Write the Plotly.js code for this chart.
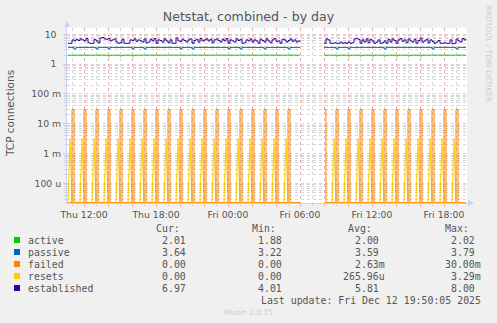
<!DOCTYPE html>
<html>
<head>
<meta charset="utf-8">
<script src="https://cdn.plot.ly/plotly-3.0.1.min.js"></script>
<style>html,body{margin:0;padding:0;background:#f0f0f0;}#chart{width:497px;height:323px;}</style>
</head>
<body>
<div id="chart"></div>
<script>
// ---- DATA (10-minute samples from Thu 2025-12-11 10:40 to Fri 2025-12-12 19:50) ----
var startTime = '2025-12-11 10:40';
var stepMinutes = 10;
var seriesNames = ['active', 'passive', 'failed', 'resets', 'established'];
var seriesColors = ['#00cc00', '#0066b3', '#ff8000', '#ffcc00', '#330099'];

var active = [
2.00,2.00,2.00,2.00,2.00,2.00,2.00,2.00,2.00,2.00,
2.00,2.00,2.00,2.00,2.00,2.00,2.00,2.00,2.00,2.00,
1.88,2.00,2.00,2.00,2.00,2.00,1.88,2.00,2.00,2.00,
2.00,2.00,1.88,2.00,2.00,2.00,2.00,2.00,2.00,2.00,
2.00,2.00,2.00,2.00,2.00,2.00,2.00,2.00,2.00,2.00,
2.00,2.00,2.00,2.00,2.00,2.00,2.00,2.00,2.00,2.00,
2.00,2.00,2.00,2.00,2.00,2.00,2.00,2.00,2.00,2.00,
2.00,2.00,2.00,2.00,2.00,2.00,2.00,2.00,2.00,2.00,
2.00,2.00,2.00,2.00,2.00,2.00,2.00,2.00,2.00,2.00,
2.00,2.00,2.00,2.00,2.00,2.00,2.00,2.00,2.00,2.00,
2.00,2.00,2.00,2.00,2.00,2.00,2.00,2.00,2.00,2.00,
2.00,2.00,2.00,2.00,2.00,2.00,2.00,null,null,null,
null,null,null,null,null,null,null,null,2.00,2.00,
2.00,2.00,2.00,2.00,1.88,2.00,2.00,2.00,2.00,2.00,
1.88,2.00,2.00,2.00,2.00,2.00,1.88,2.00,2.00,2.00,
2.00,2.00,1.88,2.00,2.00,2.00,2.00,2.00,1.88,2.00,
2.00,2.00,2.00,2.00,1.88,2.00,2.00,2.00,2.00,2.00,
1.88,2.00,2.00,2.00,2.00,2.00,1.88,2.00,2.00,2.00,
2.00,2.00,2.00,2.00,2.00,2.00,2.00,2.00,2.00,2.00,
2.00,2.00,2.00,2.00,2.00,2.00,2.00,2.00,2.00,2.01
];

var passive = [
3.64,3.64,3.64,3.22,3.64,3.64,3.64,3.64,3.64,3.64,
3.64,3.64,3.64,3.64,3.22,3.64,3.64,3.64,3.64,3.64,
3.22,3.64,3.64,3.64,3.64,3.64,3.64,3.64,3.64,3.64,
3.64,3.64,3.22,3.64,3.64,3.64,3.64,3.64,3.22,3.64,
3.64,3.64,3.64,3.64,3.64,3.64,3.64,3.64,3.64,3.64,
3.64,3.64,3.64,3.64,3.64,3.64,3.22,3.64,3.64,3.64,
3.64,3.64,3.22,3.64,3.64,3.64,3.64,3.64,3.64,3.64,
3.64,3.64,3.64,3.64,3.64,3.64,3.64,3.64,3.64,3.64,
3.22,3.64,3.64,3.64,3.64,3.64,3.22,3.64,3.64,3.64,
3.64,3.64,3.64,3.64,3.64,3.64,3.64,3.64,3.22,3.64,
3.64,3.64,3.64,3.64,3.64,3.64,3.64,3.64,3.64,3.64,
3.22,3.64,3.64,3.64,3.64,3.64,3.64,null,null,null,
null,null,null,null,null,null,null,null,3.64,3.64,
3.64,3.64,3.64,3.64,3.22,3.64,3.64,3.64,3.64,3.64,
3.22,3.64,3.64,3.64,3.64,3.64,3.64,3.64,3.64,3.64,
3.64,3.64,3.64,3.64,3.64,3.64,3.64,3.64,3.22,3.64,
3.64,3.64,3.64,3.64,3.64,3.64,3.64,3.64,3.64,3.64,
3.64,3.64,3.64,3.64,3.64,3.64,3.64,3.64,3.64,3.64,
3.64,3.64,3.22,3.64,3.64,3.64,3.64,3.64,3.64,3.64,
3.64,3.64,3.64,3.64,3.22,3.64,3.64,3.64,3.64,3.64
];

var failed = [
0,0,0.03,0,0,0,0,0,0.03,0,
0,0,0,0,0.03,0,0,0,0,0,
0.03,0,0,0,0,0,0.03,0,0,0,
0,0,0.03,0,0,0,0,0,0.03,0,
0,0,0,0,0.03,0,0,0,0,0,
0.03,0,0,0,0,0,0.03,0,0,0,
0,0,0.03,0,0,0,0,0,0.03,0,
0,0,0,0,0.03,0,0,0,0,0,
0.03,0,0,0,0,0,0.03,0,0,0,
0,0,0.03,0,0,0,0,0,0.03,0,
0,0,0,0,0.03,0,0,0,0,0,
0.03,0,0,0,0,0,0,null,null,null,
null,null,null,null,null,null,null,null,0.03,0,
0,0,0,0,0.03,0,0,0,0,0,
0.03,0,0,0,0,0,0.03,0,0,0,
0,0,0.03,0,0,0,0,0,0.03,0,
0,0,0,0,0.03,0,0,0,0,0,
0.03,0,0,0,0,0,0.03,0,0,0,
0,0,0.03,0,0,0,0,0,0.03,0,
0,0,0,0,0.03,0,0,0,0,0
];

var resets = [
0,0.0032,0,0,0,0,0,0.0032,0,0,
0,0,0,0.0032,0,0,0,0,0,0.0032,
0,0,0,0,0,0.0032,0,0,0,0,
0,0.0032,0,0,0,0,0,0.0032,0,0,
0,0,0,0.0032,0,0,0,0,0,0.0032,
0,0,0,0,0,0.0032,0,0,0,0,
0,0.0032,0,0,0,0,0,0.0032,0,0,
0,0,0,0.0032,0,0,0,0,0,0.0032,
0,0,0,0,0,0.0032,0,0,0,0,
0,0.0032,0,0,0,0,0,0.0032,0,0,
0,0,0,0.0032,0,0,0,0,0,0.0032,
0,0,0,0,0,0,0,null,null,null,
null,null,null,null,null,null,null,null,0,0,
0,0,0,0.0032,0,0,0,0,0,0.0032,
0,0,0,0,0,0.0032,0,0,0,0,
0,0.0032,0,0,0,0,0,0.0032,0,0,
0,0,0,0.0032,0,0,0,0,0,0.0032,
0,0,0,0,0,0.0032,0,0,0,0,
0,0.0032,0,0,0,0,0,0.0032,0,0,
0,0,0,0.0032,0,0,0,0,0,0
];

var established = [
5.0,5.0,6.5,6.0,6.8,6.2,7.0,6.5,6.0,7.2,
5.2,5.0,5.0,6.8,6.0,5.2,7.5,7.8,7.0,6.8,
7.2,6.0,6.5,7.0,5.5,5.0,5.2,6.8,5.0,5.0,
5.0,6.5,6.2,7.0,5.8,6.5,6.0,5.5,7.0,5.2,
5.5,6.8,6.0,7.2,5.0,6.5,6.2,5.5,7.0,6.0,
5.2,6.5,5.0,5.0,7.5,6.0,5.8,6.8,6.2,5.5,
6.5,7.0,5.0,6.2,6.8,5.5,7.2,6.0,6.5,7.0,
6.0,6.8,5.2,6.5,7.0,6.2,5.5,6.8,6.0,7.2,
5.0,6.5,6.0,5.5,7.0,6.2,6.8,5.0,5.2,6.5,
6.0,7.0,5.5,6.5,6.0,5.0,6.8,6.2,5.5,7.0,
6.0,5.2,6.5,7.2,5.8,6.0,5.0,6.8,6.5,5.5,
6.2,7.0,5.8,6.5,5.5,6.0,5.8,null,null,null,
null,null,null,null,null,null,null,null,5.0,7.0,
6.5,5.0,5.0,5.2,5.0,5.0,5.5,5.0,5.2,5.0,
5.5,5.0,5.2,7.0,7.2,6.8,5.0,6.5,5.5,7.0,
5.2,6.8,6.0,5.0,5.5,6.5,5.0,5.2,6.0,5.0,
6.8,5.5,7.0,6.2,5.0,6.5,7.2,5.8,6.5,5.2,
7.0,6.0,5.5,6.8,5.0,6.2,7.5,5.5,6.0,6.8,
5.2,6.5,5.8,5.0,5.5,6.2,5.0,5.0,5.2,5.0,
5.0,6.5,4.8,5.0,7.0,6.0,5.5,7.2,6.5,6.97
];

// legend statistics as printed by munin
var curVals = ['2.01 ', '3.64 ', '0.00 ', '0.00 ', '6.97 '];
var minVals = ['1.88 ', '3.22 ', '0.00 ', '0.00 ', '4.01 '];
var avgVals = ['2.00 ', '3.59 ', '2.63m', '265.96u', '5.81 '];
var maxVals = ['2.02 ', '3.79 ', '30.00m', '3.29m', '8.00 '];
var lastUpdate = 'Last update: Fri Dec 12 19:50:05 2025';

var yTickVals = [10, 1, 0.1, 0.01, 0.001, 0.0001];
var yTickText = ['10\u2002', '1\u2002', '100 m', '10 m', '1 m', '100 u'];

// ---- build time axis ----
function pad(n){return (n<10?'0':'')+n;}
function fmt(d){return d.getUTCFullYear()+'-'+pad(d.getUTCMonth()+1)+'-'+pad(d.getUTCDate())+' '+pad(d.getUTCHours())+':'+pad(d.getUTCMinutes());}
var t0 = Date.UTC(2025, 11, 11, 10, 40);
var times = [];
for (var i = 0; i < established.length; i++) times.push(fmt(new Date(t0 + i*stepMinutes*60000)));

var days = ['Sun','Mon','Tue','Wed','Thu','Fri','Sat'];
var xTickVals = [], xTickText = [];
for (var h = 12; h <= 12+30; h += 2) {
  var d = new Date(Date.UTC(2025, 11, 11, h, 0));
  xTickVals.push(fmt(d));
  xTickText.push(d.getUTCHours() % 6 === 0 ? days[d.getUTCDay()] + ' ' + pad(d.getUTCHours()) + ':00' : '');
}

var yMin = -4.653, yMax = 1.211;
var floorVal = Math.pow(10, yMin + 0.01);
function toLog(arr){return arr.map(function(v){return v === null ? null : (v === 0 ? floorVal : v);});}

// drawing order: active, passive, resets (under), failed, established
var order = [0, 1, 3, 2, 4];
var seriesData = [active, passive, failed, resets, established];
var lineShapes = ['hv', 'hv', 'hv', 'linear', 'hv'];
var traces = order.map(function(k){
  return {x: times, y: toLog(seriesData[k]), type: 'scatter', mode: 'lines', name: seriesNames[k],
    line: {color: seriesColors[k], width: 1, shape: lineShapes[k]}, connectgaps: false, hoverinfo: 'skip'};
});

var yMinor = [];
for (var e = -5; e <= 1; e++) for (var m = 2; m <= 9; m++) yMinor.push(m*Math.pow(10, e));

function px(x){return (x-67)/400;}
function py(y){return (203-y)/175;}

var mono = 'DejaVu Sans Mono, monospace';
var txtColor = '#555555';
var ann = [];
var shapes = [];
var rowY = [240, 252, 264, 276, 288];
var hdr = [['Cur:',182],['Min:',278],['Avg:',374],['Max:',471]];
hdr.forEach(function(h){
  ann.push({xref:'paper', yref:'paper', x:px(h[1]), y:py(228), xanchor:'right', yanchor:'middle', text:h[0], showarrow:false, font:{family:mono, size:9.9, color:txtColor}});
});
var cols = [[curVals,194],[minVals,290],[avgVals,387],[maxVals,483]];
for (var r = 0; r < 5; r++) {
  shapes.push({type:'rect', xref:'paper', yref:'paper', x0:px(14), x1:px(20), y0:py(rowY[r]-3), y1:py(rowY[r]+3), fillcolor:seriesColors[r], line:{width:0}});
  ann.push({xref:'paper', yref:'paper', x:px(26), y:py(rowY[r]), xanchor:'left', yanchor:'middle', text:seriesNames[r], showarrow:false, font:{family:mono, size:9.9, color:txtColor}});
  cols.forEach(function(c){
    ann.push({xref:'paper', yref:'paper', x:px(c[1]), y:py(rowY[r]), xanchor:'right', yanchor:'middle', text:c[0][r].replace(/ /g,'\u00a0'), showarrow:false, font:{family:mono, size:9.9, color:txtColor}});
  });
}
ann.push({xref:'paper', yref:'paper', x:px(483), y:py(300), xanchor:'right', yanchor:'middle', text:lastUpdate.replace(/ /g,'\u00a0'), showarrow:false, font:{family:mono, size:9.9, color:txtColor}});
ann.push({xref:'paper', yref:'paper', x:px(248), y:py(312), xanchor:'center', yanchor:'middle', text:'Munin 2.0.75', showarrow:false, font:{family:'DejaVu Sans', size:7.5, color:'#cccccc'}});
ann.push({xref:'paper', yref:'paper', x:px(488), y:py(53.5), xanchor:'center', yanchor:'middle', text:'RRDTOOL / TOBI OETIKER', textangle:90, showarrow:false, font:{family:'DejaVu Sans', size:7.5, color:'#cccccc'}});
ann.push({xref:'paper', yref:'paper', x:px(10), y:py(114), xanchor:'center', yanchor:'middle', text:'TCP connections', textangle:-90, showarrow:false, font:{family:'DejaVu Sans', size:10.5, color:txtColor}});

var axisCol = '#c8d0f8';
shapes.push({type:'path', xref:'paper', yref:'paper', path:'M '+px(64)+' '+py(27)+' L '+px(70)+' '+py(27)+' L '+px(67)+' '+py(21)+' Z', fillcolor:axisCol, line:{width:0}});
shapes.push({type:'path', xref:'paper', yref:'paper', path:'M '+px(468)+' '+py(200)+' L '+px(468)+' '+py(206)+' L '+px(474)+' '+py(203)+' Z', fillcolor:axisCol, line:{width:0}});

var majorGrid = 'rgba(230,140,140,0.5)';
var minorGrid = '#d6d6d6';
var layout = {
  width: 497, height: 323,
  margin: {l: 67, r: 30, t: 28, b: 120, pad: 0},
  paper_bgcolor: '#f0f0f0', plot_bgcolor: '#ffffff',
  showlegend: false,
  title: {text: 'Netstat, combined - by day', font: {family: 'DejaVu Sans', size: 12.6, color: '#555555'}, x: 0.5, xanchor: 'center', y: 1 - 17/323, yanchor: 'middle', yref: 'container'},
  xaxis: {type: 'date', range: ['2025-12-11 10:35', '2025-12-12 19:55'], tickmode: 'array', tickvals: xTickVals, ticktext: xTickText,
    showgrid: true, gridcolor: majorGrid, griddash: 'dot', gridwidth: 1,
    ticks: 'outside', ticklen: 3, tickcolor: majorGrid,
    minor: {dtick: 3600000, tick0: '2025-12-11 00:00', showgrid: true, gridcolor: minorGrid, griddash: 'dot', gridwidth: 1, ticks: 'outside', ticklen: 2, tickcolor: minorGrid},
    showline: true, linecolor: axisCol, linewidth: 1, zeroline: false,
    tickfont: {family: 'DejaVu Sans', size: 9.3, color: txtColor}, fixedrange: true},
  yaxis: {type: 'log', range: [yMin, yMax], tickmode: 'array', tickvals: yTickVals, ticktext: yTickText,
    showgrid: true, gridcolor: majorGrid, griddash: 'dot', gridwidth: 1,
    ticks: 'outside', ticklen: 3, tickcolor: majorGrid,
    minor: {tickmode: 'array', tickvals: yMinor, showgrid: true, gridcolor: minorGrid, griddash: 'dot', gridwidth: 1, ticks: 'outside', ticklen: 2, tickcolor: minorGrid},
    showline: true, linecolor: axisCol, linewidth: 1, zeroline: false,
    tickfont: {family: 'DejaVu Sans', size: 9.3, color: txtColor}, fixedrange: true},
  annotations: ann,
  shapes: shapes
};

Plotly.newPlot('chart', traces, layout, {displayModeBar: false, staticPlot: true});
</script>
</body>
</html>
